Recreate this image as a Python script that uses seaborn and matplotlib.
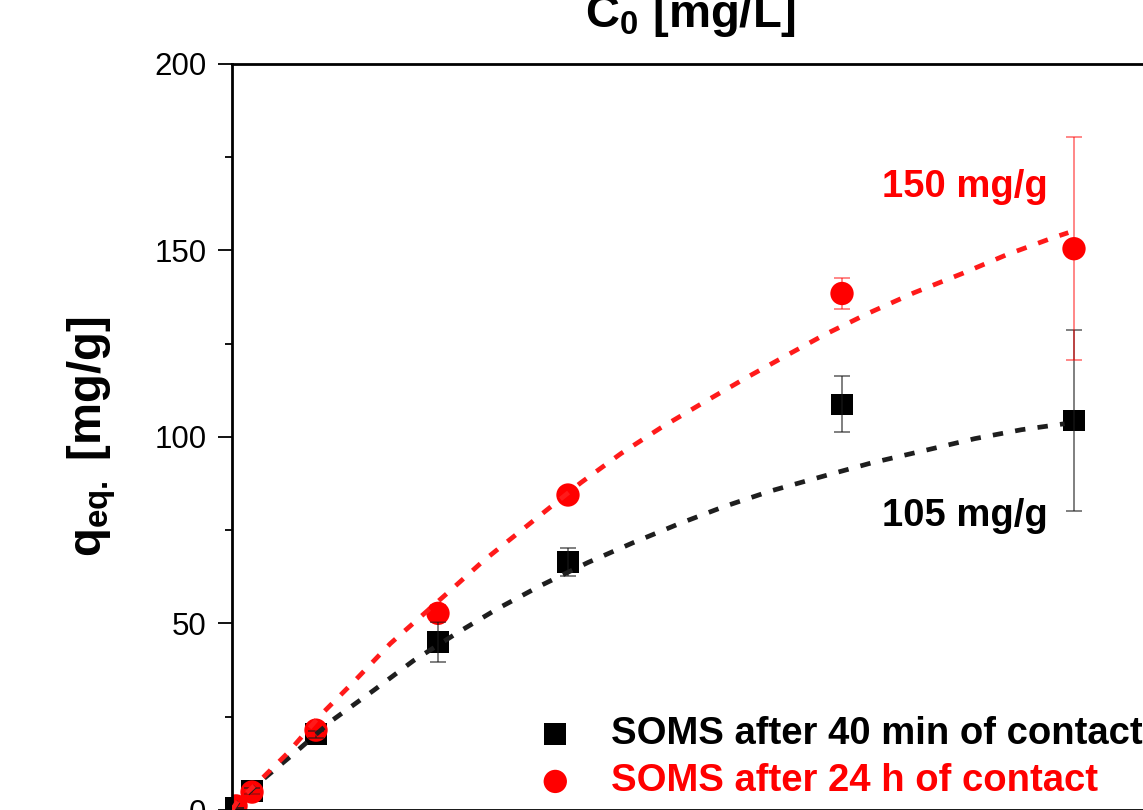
import numpy as np
import pandas as pd
import seaborn as sns
import matplotlib
matplotlib.use("Agg")
import matplotlib.pyplot as plt
from matplotlib.ticker import AutoMinorLocator

# ---------------- data ----------------
conc = [4.4, 21.8, 91.5, 224.4, 366.0, 664.5, 917.2]
q_40min = [0.5, 5.1, 20.3, 45.0, 66.4, 108.7, 104.4]
err_40min = [0.0, 0.8, 1.0, 5.3, 3.8, 7.5, 24.2]
q_24h = [1.1, 4.8, 21.4, 52.7, 84.4, 138.4, 150.4]
err_24h = [0.0, 0.6, 1.2, 2.1, 1.0, 4.1, 29.9]

fit_x_40min = [0, 6.6, 28.4, 68.8, 109, 154, 197.6, 245.6, 289, 336, 387.6, 436.7,
               487, 536, 587, 642, 696.5, 754, 809, 860, 907]
fit_q_40min = [0, 2.0, 7.1, 15.4, 24.0, 32.0, 40.0, 47.5, 53.9, 60.1, 66.3, 71.6,
               76.7, 81.3, 85.5, 89.3, 93.0, 96.3, 99.5, 101.9, 103.5]
fit_x_24h = [0, 6.6, 28.4, 60, 96, 134, 172.5, 235, 274, 380, 423.6, 467, 513,
             560, 607, 645, 694, 743, 795, 844, 895, 911]
fit_q_24h = [0, 2.5, 7.4, 15.1, 25.3, 34.7, 44.6, 58.2, 66.8, 87.7, 95.5, 102.4,
             109.1, 115.8, 122.2, 127.3, 133.2, 138.6, 143.7, 148.8, 153.4, 154.7]

series_labels = ["SOMS after 40 min of contact", "SOMS after 24 h of contact"]
series_colors = ["#000000", "#FF0000"]
y_ticks = [0, 50, 100, 150, 200]
annot_texts = ["105 mg/g", "150 mg/g"]

# ---------------- style ----------------
sns.set_style("ticks")
plt.rcParams["font.family"] = ["Liberation Sans", "DejaVu Sans"]
plt.rcParams["mathtext.fontset"] = "custom"
plt.rcParams["mathtext.rm"] = "Liberation Sans"
plt.rcParams["mathtext.bf"] = "Liberation Sans:bold"
plt.rcParams["mathtext.it"] = "Liberation Sans:italic"
plt.rcParams["text.color"] = "black"
plt.rcParams["axes.labelcolor"] = "black"
plt.rcParams["ytick.color"] = "black"
plt.rcParams["xtick.color"] = "black"

W, H = 1143, 810
fig = plt.figure(figsize=(W / 100, H / 100), dpi=100)
ax = fig.add_axes([232 / W, 0.0, 918 / W, (810 - 63.6) / H])

df40 = pd.DataFrame({"conc": conc, "q": q_40min})
df24 = pd.DataFrame({"conc": conc, "q": q_24h})

sns.scatterplot(data=df40, x="conc", y="q", marker="s", s=243, color=series_colors[0],
                edgecolor="none", linewidth=0, ax=ax, zorder=2, label=series_labels[0],
                clip_on=False)
sns.scatterplot(data=df24, x="conc", y="q", marker="o", s=282, color=series_colors[1],
                edgecolor="none", linewidth=0, ax=ax, zorder=2.1, label=series_labels[1],
                clip_on=True)

ax.errorbar(conc, q_40min, yerr=err_40min, fmt="none", ecolor=(0.1, 0.1, 0.1, 0.65),
            elinewidth=1.2, capsize=5.5, capthick=1.2, zorder=3)
ax.errorbar(conc, q_24h, yerr=err_24h, fmt="none", ecolor=(1, 0, 0, 0.55),
            elinewidth=1.2, capsize=5.5, capthick=1.2, zorder=3)

sns.lineplot(x=fit_x_40min, y=fit_q_40min, color="#1e1e1e", lw=3.4, ax=ax,
             sort=False, estimator=None, legend=False, zorder=4)
ax.lines[-1].set_dashes((2.2, 2.6))
sns.lineplot(x=fit_x_24h, y=fit_q_24h, color="#FF1a1a", lw=3.4, ax=ax,
             sort=False, estimator=None, legend=False, zorder=4)
ax.lines[-1].set_dashes((2.2, 2.6))

ax.text(889, 164.2, annot_texts[1], color=series_colors[1], fontsize=27.5,
        fontweight="bold", ha="right", va="baseline")
ax.text(889, 76.0, annot_texts[0], color=series_colors[0], fontsize=27.5,
        fontweight="bold", ha="right", va="baseline")

ax.set_xlim(0, 1000)
ax.set_ylim(0, 200)
ax.set_yticks(y_ticks)
ax.set_yticklabels([str(t) for t in y_ticks])
ax.yaxis.set_minor_locator(AutoMinorLocator(2))
ax.set_xticks([])
ax.tick_params(axis="y", which="major", direction="out", length=10, width=1.3,
               labelsize=22.5, pad=8.5, color="black", labelcolor="black")
ax.tick_params(axis="y", which="minor", direction="out", length=5, width=1.3, color="black")
for side in ["top", "left", "bottom", "right"]:
    ax.spines[side].set_visible(True)
    ax.spines[side].set_linewidth(2)
    ax.spines[side].set_color("black")

ax.xaxis.set_label_position("top")
ax.set_xlabel(r"C$_\mathbf{0}$ [mg/L]", fontsize=34, fontweight="bold")
ax.xaxis.label.set_verticalalignment("baseline")
ax.xaxis.set_label_coords(0.5, (810 - 27) / (810 - 63.6))
ax.set_ylabel(r"q$_\mathbf{eq.}$ [mg/g]", fontsize=34, fontweight="bold", labelpad=26)

handles, labels = ax.get_legend_handles_labels()
leg = ax.legend(handles, labels, loc="upper left", bbox_to_anchor=(540 / W, 1 - 716 / H),
                bbox_transform=fig.transFigure, frameon=False,
                prop={"size": 27.5, "weight": "bold"}, handlelength=0.8,
                handletextpad=1.05, labelspacing=0.3, borderpad=0, borderaxespad=0)
for txt, col in zip(leg.get_texts(), series_colors):
    txt.set_color(col)

fig.savefig("out.png", dpi=100)
